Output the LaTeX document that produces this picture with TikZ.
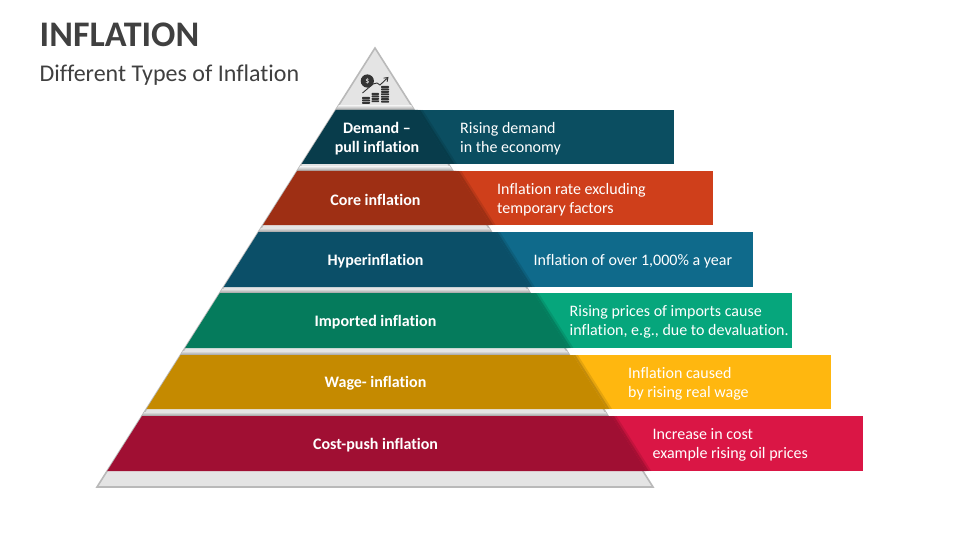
\documentclass[tikz,border=0pt]{standalone}
\usepackage{fontspec}
\setmainfont[Ligatures=NoCommon]{Carlito}
\usetikzlibrary{arrows.meta}
\definecolor{tri}{HTML}{E4E4E4}
\definecolor{triline}{HTML}{B9B9B9}
\definecolor{ink}{HTML}{404040}
\definecolor{iconink}{HTML}{333333}
\definecolor{lightA}{HTML}{0B4E61}\definecolor{darkA}{HTML}{083C4B}
\definecolor{lightB}{HTML}{CF3F1B}\definecolor{darkB}{HTML}{9E2F14}
\definecolor{lightC}{HTML}{0F6A8B}\definecolor{darkC}{HTML}{0B4F68}
\definecolor{lightD}{HTML}{06A67C}\definecolor{darkD}{HTML}{057B5C}
\definecolor{lightE}{HTML}{FFB70F}\definecolor{darkE}{HTML}{C58A00}
\definecolor{lightF}{HTML}{DA1645}\definecolor{darkF}{HTML}{A00F33}
\tikzset{
  x=1pt,y=-1pt,
  barlabel/.style={text=white,font=\fontsize{16}{19}\selectfont,anchor=west,align=left,inner sep=0pt},
  bandlabel/.style={text=white,font=\fontsize{16}{19}\selectfont\bfseries,align=center,inner sep=0pt},
  coin/.style={fill=iconink,rounded corners=0.6pt},
}
\newcommand{\bandrow}[5]{%
  \pgfmathsetmacro{\xlt}{375-(#1-48)*0.633}
  \pgfmathsetmacro{\xlb}{375-(#2-48)*0.633}
  \pgfmathsetmacro{\xrt}{375+(#1-48)*0.633+3.5}
  \pgfmathsetmacro{\xrb}{375+(#2-48)*0.633+3.5}
  \fill[#4] (\xlt,#1) rectangle (#3,#2);
  \fill[black,opacity=.10] (\xrt,#1) -- (\xrt+5,#1) -- (\xrb+5,#2) -- (\xrb,#2) -- cycle;
  \fill[black,opacity=.14] (\xrt,#1) -- (\xrt+2.5,#1) -- (\xrb+2.5,#2) -- (\xrb,#2) -- cycle;
  \fill[#5] (\xlt,#1) -- (\xrt,#1) -- (\xrb,#2) -- (\xlb,#2) -- cycle;
}
\newcommand{\gapshade}[2]{%
  \begin{scope}
    \clip (375,48) -- (653,487) -- (97,487) -- cycle;
    \shade[top color=tri,bottom color=black!38] (90,#1) rectangle (660,#2);
  \end{scope}
}
\newcommand{\coinstack}[4]{%
  \foreach \k in {1,...,#4} {
    \fill[coin] (#1,{#3+(\k-1)*2.45}) rectangle (#2,{#3+(\k-1)*2.45+1.9});
  }
}
\begin{document}
\begin{tikzpicture}
\useasboundingbox (0,0) rectangle (960,540);
\fill[white] (0,0) rectangle (960,540);
% pyramid
\draw[fill=tri,draw=triline,line width=1.6pt,line join=miter] (375,48) -- (653,487) -- (97,487) -- cycle;
% shadows above bands
\gapshade{106}{110}
\gapshade{167}{171}
\gapshade{228}{232}
\gapshade{289}{293}
\gapshade{351}{355}
\gapshade{412}{416}
% bands
\bandrow{110}{164}{674}{lightA}{darkA}
\bandrow{171}{225}{713}{lightB}{darkB}
\bandrow{232}{287}{753}{lightC}{darkC}
\bandrow{293}{348}{792}{lightD}{darkD}
\bandrow{355}{409}{831}{lightE}{darkE}
\bandrow{416}{471}{863}{lightF}{darkF}
% titles
\node[anchor=west,inner sep=0pt,text=ink,font=\fontsize{36}{40}\selectfont\bfseries] (title) at (39.5,35) {INFLATION};
\node[anchor=west,inner sep=0pt,text=ink,font=\fontsize{24}{28}\selectfont] (subtitle) at (39.5,75) {Different Types of Inflation};
% band labels
\node[bandlabel] (bandA) at (377,138.5) {Demand –\\pull inflation};
\node[bandlabel] (bandB) at (375.5,199.5) {Core inflation};
\node[bandlabel] (bandC) at (375.5,261) {Hyperinflation};
\node[bandlabel] (bandD) at (375.5,322) {Imported inflation};
\node[bandlabel] (bandE) at (375.5,383) {Wage- inflation};
\node[bandlabel] (bandF) at (375.5,445) {Cost-push inflation};
% bar labels
\node[barlabel] (barA) at (460,138.5) {Rising demand\\in the economy};
\node[barlabel] (barB) at (497,199.5) {Inflation rate excluding\\temporary factors};
\node[barlabel] (barC) at (533.5,261) {Inflation of over 1,000\% a year};
\node[barlabel] (barD) at (569.5,321.5) {Rising prices of imports cause\\inflation, e.g., due to devaluation.};
\node[barlabel] (barE) at (628,383.5) {Inflation caused\\by rising real wage};
\node[barlabel] (barF) at (652.5,445) {Increase in cost\\example rising oil prices};
% icon
\fill[iconink] (367.3,81) circle (6.6);
\node[inner sep=0pt,text=white,font=\fontsize{8}{8}\selectfont] (dollar) at (367.3,81) {\$};
\draw[iconink,line width=0.9pt,-{Straight Barb[length=3.5pt,width=5pt]}] (362.5,93) -- (373,84) -- (377,83) -- (380,85) -- (388.5,77);
\coinstack{362}{370}{97}{3}
\coinstack{371.5}{379}{93}{4}
\coinstack{381}{389}{86}{7}
\end{tikzpicture}
\end{document}
